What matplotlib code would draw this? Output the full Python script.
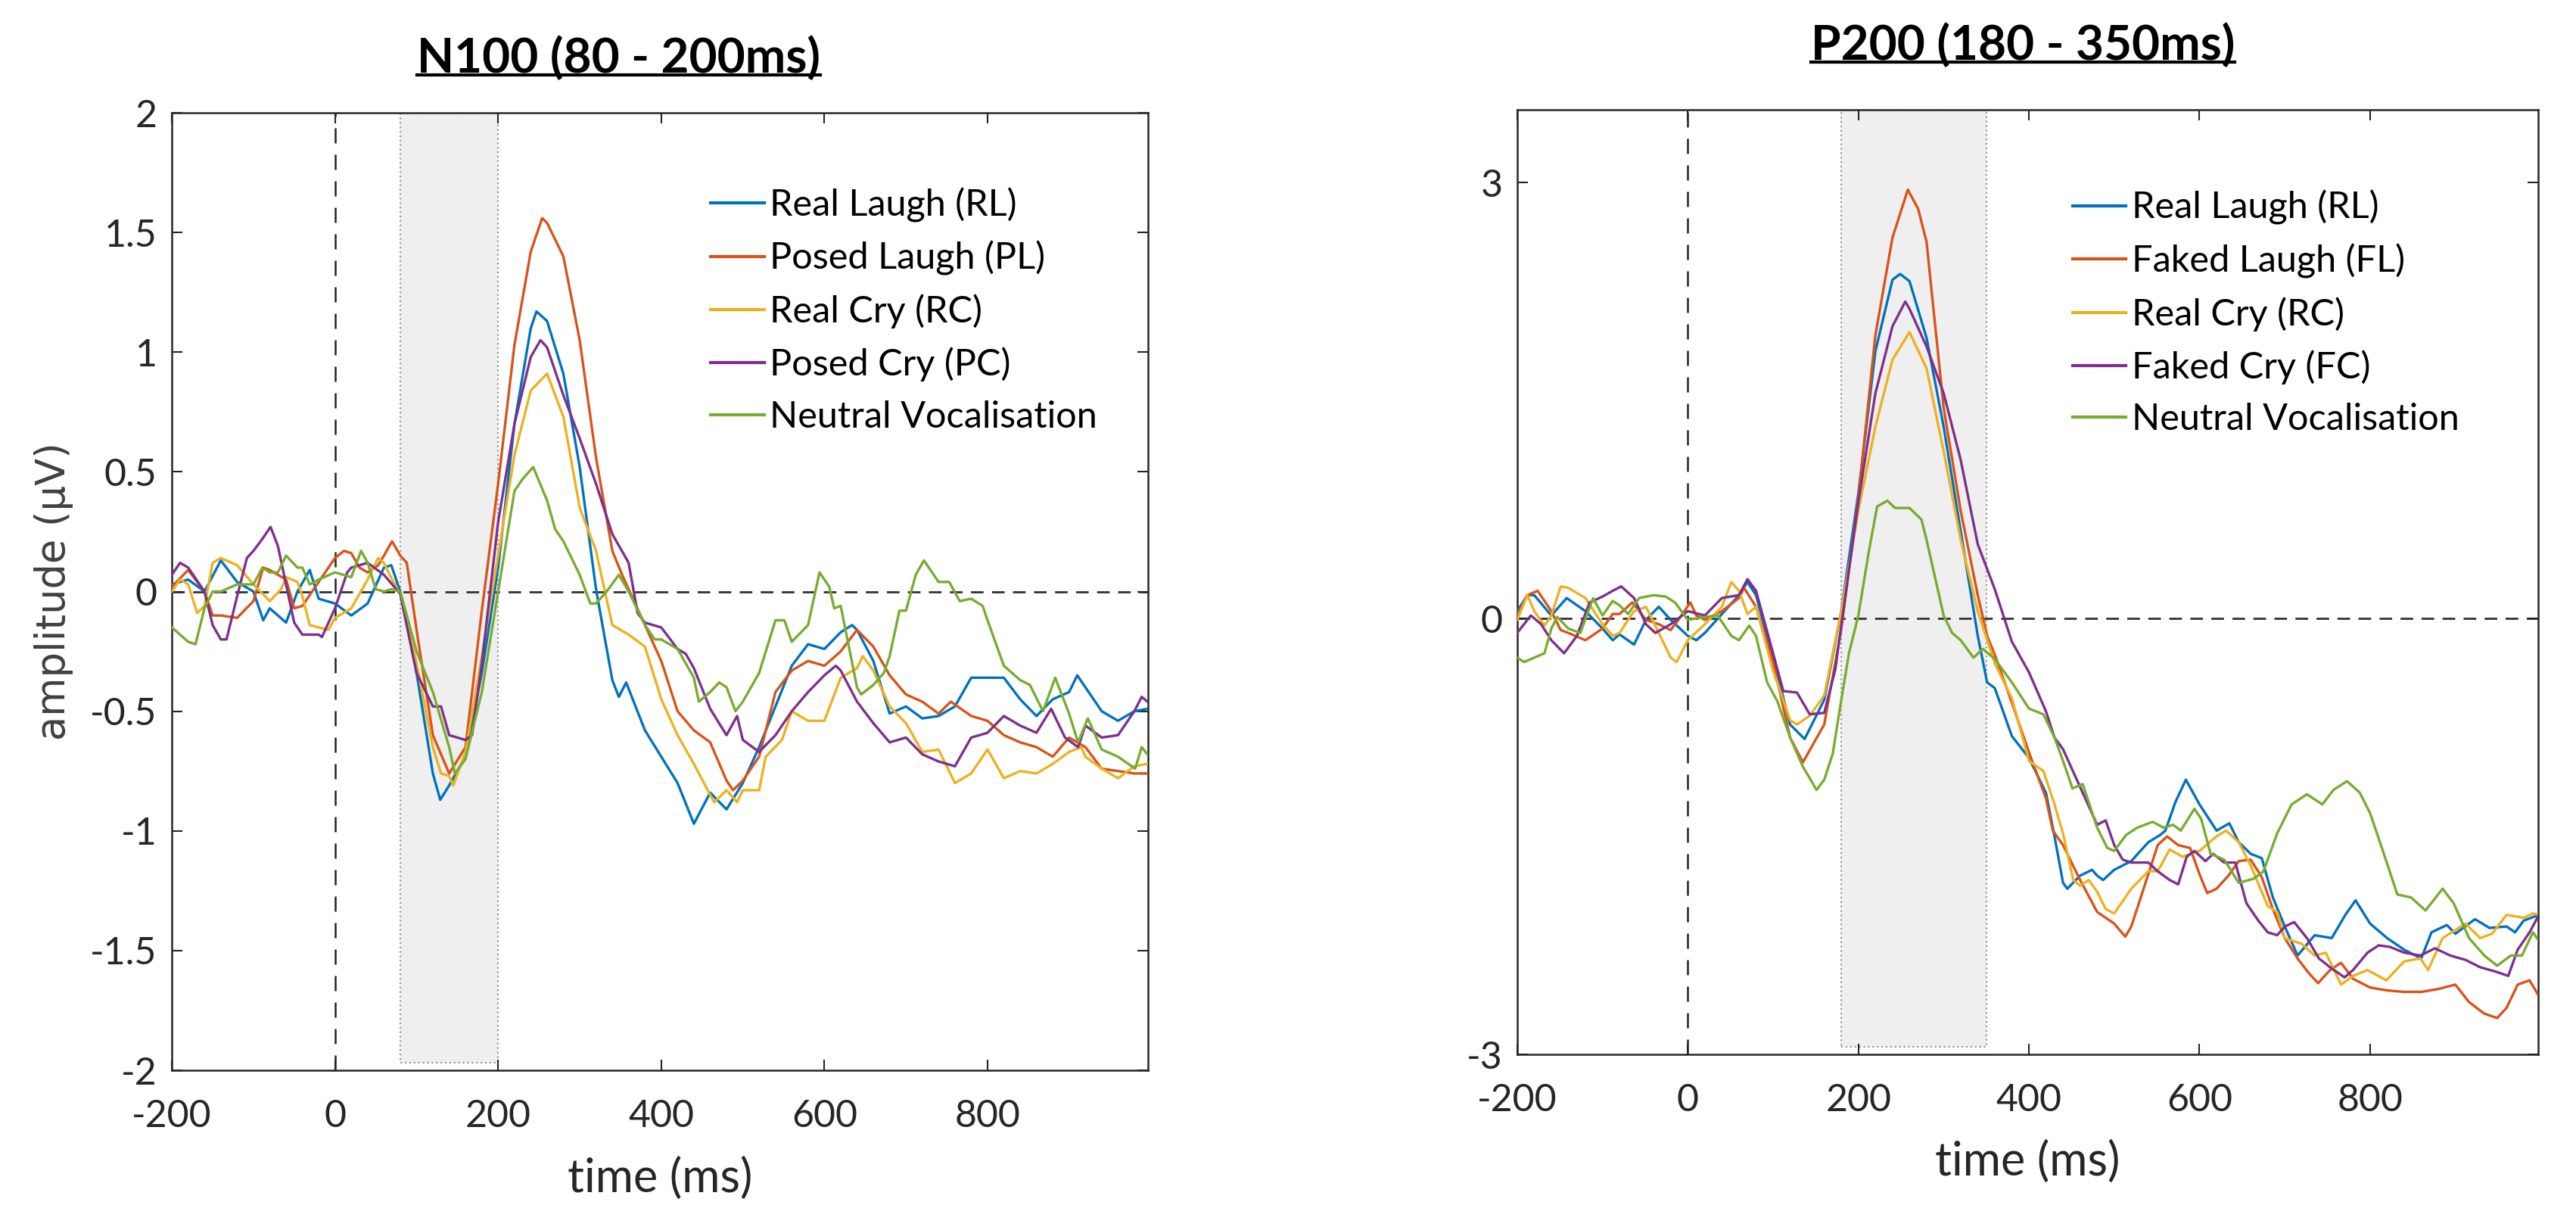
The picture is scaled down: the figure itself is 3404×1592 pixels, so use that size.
import numpy as np
import matplotlib.pyplot as plt
from matplotlib.patches import Rectangle
from matplotlib.lines import Line2D

# MATLAB default line colours
colors = ['#0072BD', '#D95319', '#EDB120', '#7E2F8E', '#77AC30']

# ---------------- N100 panel ----------------
n100_labels = ['Real Laugh (RL)', 'Posed Laugh (PL)', 'Real Cry (RC)',
               'Posed Cry (PC)', 'Neutral Vocalisation']

n100_rl_t = [-200, -180, -160, -140, -120, -100, -88, -80, -60, -46, -31, -20, 0, 20, 40, 60, 69, 80,
             100, 120, 129, 140, 160, 180, 200, 220, 240, 247, 260, 280, 300, 320, 340, 348, 357, 380,
             400, 420, 440, 460, 480, 500, 520, 540, 560, 580, 600, 620, 634, 640, 660, 680, 700, 720,
             740, 760, 780, 800, 820, 840, 860, 880, 900, 910, 920, 940, 960, 980, 996]
n100_rl = [0.03, 0.05, 0.0, 0.13, 0.04, 0.0, -0.12, -0.07, -0.13, 0.0, 0.09, -0.03, -0.05, -0.10, -0.05,
           0.10, 0.11, 0.0, -0.34, -0.76, -0.87, -0.81, -0.69, -0.34, 0.10, 0.70, 1.10, 1.17, 1.13, 0.91,
           0.52, 0.01, -0.37, -0.44, -0.38, -0.58, -0.69, -0.80, -0.97, -0.84, -0.91, -0.80, -0.65, -0.48,
           -0.31, -0.22, -0.24, -0.17, -0.14, -0.16, -0.29, -0.51, -0.48, -0.53, -0.52, -0.48, -0.36, -0.36,
           -0.36, -0.45, -0.52, -0.45, -0.42, -0.35, -0.40, -0.50, -0.54, -0.50, -0.49]

n100_pl_t = [-200, -180, -160, -150, -140, -120, -100, -88, -80, -60, -50, -40, -20, 0, 11, 20, 30, 40,
             53, 60, 70, 80, 88, 100, 120, 140, 160, 180, 200, 220, 240, 254, 260, 280, 300, 320, 340,
             352, 360, 380, 400, 420, 440, 460, 480, 488, 500, 520, 540, 560, 580, 600, 620, 640, 660,
             680, 700, 720, 740, 755, 780, 800, 820, 840, 860, 880, 900, 920, 940, 960, 980, 996]
n100_pl = [0.02, 0.09, 0.0, -0.10, -0.10, -0.11, -0.04, 0.10, 0.09, 0.05, -0.07, -0.06, 0.04, 0.14, 0.17,
           0.16, 0.10, 0.08, 0.11, 0.15, 0.21, 0.15, 0.12, -0.16, -0.60, -0.76, -0.65, -0.08, 0.45, 1.03,
           1.42, 1.56, 1.54, 1.40, 1.05, 0.56, 0.17, 0.07, 0.01, -0.14, -0.29, -0.50, -0.58, -0.63, -0.79,
           -0.83, -0.79, -0.69, -0.42, -0.33, -0.29, -0.31, -0.25, -0.16, -0.23, -0.35, -0.43, -0.46,
           -0.51, -0.46, -0.52, -0.54, -0.60, -0.63, -0.65, -0.69, -0.61, -0.65, -0.74, -0.75, -0.76, -0.76]

n100_rc_t = [-200, -190, -180, -169, -160, -150, -140, -120, -100, -80, -66, -60, -46, -40, -31, -20, -8,
             0, 20, 40, 53, 60, 70, 80, 100, 120, 130, 140, 145, 160, 180, 200, 220, 240, 260, 280, 300,
             320, 340, 360, 380, 400, 420, 440, 460, 465, 480, 493, 500, 520, 528, 548, 560, 580, 600,
             620, 640, 647, 660, 680, 700, 720, 740, 760, 780, 800, 820, 840, 860, 880, 900, 915, 920,
             940, 960, 980, 996]
n100_rc = [0.0, 0.05, 0.03, -0.09, -0.06, 0.12, 0.14, 0.11, 0.03, -0.04, 0.01, 0.06, 0.04, -0.02, -0.14,
           -0.15, -0.16, -0.11, -0.07, 0.05, 0.14, 0.12, 0.05, -0.01, -0.30, -0.65, -0.76, -0.77, -0.81,
           -0.67, -0.27, 0.15, 0.57, 0.84, 0.91, 0.73, 0.35, 0.17, -0.14, -0.18, -0.23, -0.45, -0.60,
           -0.72, -0.85, -0.88, -0.83, -0.88, -0.83, -0.83, -0.69, -0.62, -0.50, -0.54, -0.54, -0.36,
           -0.32, -0.27, -0.33, -0.48, -0.55, -0.67, -0.66, -0.80, -0.76, -0.66, -0.78, -0.75, -0.76,
           -0.72, -0.67, -0.65, -0.69, -0.74, -0.78, -0.73, -0.72]

n100_pc_t = [-200, -190, -180, -160, -150, -140, -133, -120, -108, -100, -89, -79, -70, -60, -50, -40,
             -20, -16, 0, 15, 20, 40, 60, 80, 100, 120, 130, 140, 160, 168, 180, 200, 220, 240, 252, 260,
             280, 300, 320, 340, 360, 371, 380, 400, 420, 430, 440, 460, 480, 493, 500, 520, 540, 560,
             580, 600, 614, 620, 640, 660, 680, 700, 720, 740, 760, 780, 800, 820, 840, 860, 878, 895,
             911, 920, 940, 960, 980, 989, 996]
n100_pc = [0.07, 0.12, 0.10, 0.0, -0.14, -0.20, -0.20, -0.02, 0.14, 0.17, 0.22, 0.27, 0.19, 0.03, -0.13,
           -0.18, -0.18, -0.19, -0.07, 0.08, 0.10, 0.12, 0.07, -0.01, -0.34, -0.48, -0.48, -0.60, -0.62,
           -0.60, -0.30, 0.29, 0.70, 0.98, 1.05, 1.02, 0.82, 0.64, 0.45, 0.24, 0.12, -0.09, -0.13, -0.15,
           -0.24, -0.26, -0.32, -0.49, -0.60, -0.52, -0.62, -0.67, -0.60, -0.50, -0.42, -0.35, -0.31,
           -0.33, -0.46, -0.55, -0.63, -0.61, -0.68, -0.71, -0.73, -0.61, -0.59, -0.52, -0.56, -0.59,
           -0.49, -0.61, -0.65, -0.56, -0.61, -0.60, -0.50, -0.44, -0.46]

n100_nv_t = [-200, -190, -180, -171, -160, -150, -140, -120, -100, -89, -80, -70, -60, -46, -40, -31,
             -20, 0, 20, 32, 40, 50, 60, 69, 80, 100, 120, 140, 147, 160, 180, 200, 220, 230, 243, 260,
             270, 280, 300, 313, 320, 333, 348, 360, 380, 392, 400, 420, 440, 446, 460, 471, 480, 491,
             500, 520, 540, 551, 560, 580, 594, 606, 612, 620, 640, 645, 660, 673, 680, 692, 700, 712,
             722, 740, 753, 766, 780, 794, 800, 820, 840, 852, 868, 883, 900, 911, 923, 940, 960, 981,
             989, 996]
n100_nv = [-0.15, -0.18, -0.21, -0.22, -0.07, 0.0, 0.0, 0.03, 0.03, 0.10, 0.08, 0.08, 0.15, 0.10, 0.10,
           0.03, 0.05, 0.08, 0.06, 0.17, 0.12, 0.01, 0.0, 0.01, 0.0, -0.25, -0.42, -0.65, -0.76, -0.70,
           -0.42, 0.0, 0.42, 0.47, 0.52, 0.38, 0.26, 0.21, 0.07, -0.05, -0.05, 0.0, 0.07, 0.0, -0.14,
           -0.20, -0.20, -0.24, -0.36, -0.46, -0.42, -0.38, -0.40, -0.50, -0.46, -0.34, -0.12, -0.12,
           -0.21, -0.14, 0.08, 0.02, -0.07, -0.06, -0.40, -0.43, -0.39, -0.34, -0.27, -0.08, -0.08, 0.07,
           0.13, 0.04, 0.04, -0.04, -0.03, -0.06, -0.12, -0.31, -0.37, -0.39, -0.50, -0.36, -0.51, -0.63,
           -0.53, -0.66, -0.69, -0.74, -0.65, -0.68]

# ---------------- P200 panel ----------------
p200_labels = ['Real Laugh (RL)', 'Faked Laugh (FL)', 'Real Cry (RC)',
               'Faked Cry (FC)', 'Neutral Vocalisation']

p200_rl_t = [-200, -188, -180, -160, -142, -120, -100, -88, -80, -63, -49, -34, -20, 0, 10, 20, 40, 60,
             70, 80, 100, 120, 137, 160, 180, 200, 220, 240, 249, 260, 280, 300, 320, 340, 351, 360, 380,
             400, 420, 430, 440, 445, 460, 474, 480, 487, 500, 520, 540, 554, 560, 572, 584, 600, 620,
             635, 646, 660, 673, 686, 700, 715, 735, 755, 771, 783, 800, 820, 840, 860, 872, 890, 900,
             923, 940, 960, 970, 980, 998]
p200_rl = [0.05, 0.16, 0.16, 0.02, 0.14, 0.05, -0.07, -0.15, -0.11, -0.18, -0.01, 0.08, -0.01, -0.12,
           -0.15, -0.10, 0.03, 0.16, 0.25, 0.16, -0.27, -0.73, -0.83, -0.56, 0.05, 0.86, 1.84, 2.33, 2.37,
           2.32, 1.93, 1.32, 0.60, -0.12, -0.44, -0.48, -0.81, -0.96, -1.20, -1.50, -1.82, -1.86, -1.77,
           -1.73, -1.77, -1.80, -1.73, -1.67, -1.54, -1.49, -1.46, -1.26, -1.11, -1.28, -1.46, -1.41,
           -1.54, -1.62, -1.65, -1.92, -2.12, -2.32, -2.18, -2.20, -2.04, -1.94, -2.10, -2.20, -2.28,
           -2.34, -2.16, -2.11, -2.17, -2.07, -2.13, -2.12, -2.16, -2.08, -2.04]

p200_fl_t = [-200, -188, -176, -160, -149, -140, -120, -100, -88, -80, -65, -49, -34, -20, -11, 3, 10,
             20, 40, 60, 66, 80, 100, 120, 135, 160, 180, 200, 220, 240, 258, 270, 280, 300, 320, 340,
             351, 360, 380, 400, 420, 428, 440, 460, 480, 500, 513, 520, 540, 551, 562, 575, 589, 600,
             609, 620, 634, 646, 660, 673, 686, 700, 715, 728, 739, 753, 766, 780, 800, 820, 840, 860,
             880, 900, 916, 934, 949, 960, 973, 987, 998]
p200_fl = [0.02, 0.16, 0.19, 0.05, -0.08, -0.10, -0.15, -0.07, 0.03, 0.03, 0.11, -0.01, -0.04, -0.08,
           -0.01, 0.11, 0.02, -0.01, 0.05, 0.14, 0.21, 0.08, -0.30, -0.82, -0.99, -0.73, -0.07, 0.83, 1.95,
           2.62, 2.95, 2.82, 2.59, 1.45, 0.74, 0.16, -0.12, -0.25, -0.58, -0.92, -1.24, -1.46, -1.56,
           -1.80, -2.02, -2.10, -2.19, -2.12, -1.76, -1.56, -1.50, -1.56, -1.58, -1.76, -1.89, -1.86,
           -1.77, -1.67, -1.66, -1.78, -2.00, -2.20, -2.34, -2.44, -2.51, -2.42, -2.37, -2.48, -2.54,
           -2.56, -2.57, -2.57, -2.55, -2.52, -2.64, -2.72, -2.75, -2.68, -2.52, -2.49, -2.60]

p200_rc_t = [-200, -188, -180, -168, -160, -149, -140, -120, -100, -88, -80, -63, -49, -34, -20, -13, 0,
             20, 40, 51, 60, 70, 80, 100, 120, 128, 143, 160, 180, 200, 220, 240, 260, 280, 300, 320,
             340, 360, 380, 400, 417, 430, 440, 452, 460, 470, 480, 490, 500, 520, 540, 551, 565, 580,
             600, 620, 631, 646, 660, 680, 691, 700, 720, 735, 748, 766, 780, 797, 819, 840, 859, 868,
             885, 912, 929, 943, 960, 980, 991, 998]
p200_rc = [-0.01, 0.16, 0.05, -0.05, 0.02, 0.22, 0.21, 0.14, -0.04, -0.12, -0.10, 0.05, 0.08, -0.10,
           -0.27, -0.30, -0.15, -0.04, 0.08, 0.25, 0.19, 0.03, 0.08, -0.36, -0.70, -0.73, -0.67, -0.53,
           0.05, 0.74, 1.32, 1.78, 1.97, 1.72, 1.15, 0.54, 0.05, -0.31, -0.55, -0.98, -1.05, -1.28, -1.48,
           -1.80, -1.84, -1.80, -1.88, -2.00, -2.03, -1.86, -1.74, -1.74, -1.59, -1.64, -1.60, -1.50,
           -1.46, -1.54, -1.70, -1.98, -2.02, -2.20, -2.24, -2.32, -2.30, -2.52, -2.46, -2.42, -2.49,
           -2.36, -2.34, -2.42, -2.20, -2.10, -2.20, -2.17, -2.04, -2.06, -2.03, -2.04]

p200_fc_t = [-200, -184, -172, -160, -145, -130, -115, -100, -88, -78, -63, -49, -38, -20, 0, 20, 40,
             60, 70, 80, 100, 112, 128, 143, 160, 173, 180, 200, 220, 240, 255, 260, 280, 300, 320, 340,
             351, 360, 380, 400, 420, 430, 440, 460, 480, 490, 500, 510, 520, 540, 551, 565, 575, 585,
             594, 607, 616, 629, 642, 655, 669, 680, 691, 700, 711, 726, 740, 753, 770, 780, 797, 810,
             823, 840, 859, 876, 894, 912, 929, 947, 962, 973, 987, 998]
p200_fc = [-0.10, 0.02, -0.04, -0.15, -0.24, -0.12, 0.11, 0.15, 0.19, 0.22, 0.14, -0.04, -0.10, -0.04,
           0.05, 0.02, 0.14, 0.16, 0.27, 0.19, -0.24, -0.50, -0.51, -0.66, -0.65, -0.35, -0.05, 0.80,
           1.55, 2.01, 2.18, 2.13, 1.87, 1.55, 1.09, 0.51, 0.34, 0.20, -0.16, -0.37, -0.64, -0.82, -0.90,
           -1.16, -1.42, -1.39, -1.56, -1.66, -1.68, -1.68, -1.74, -1.80, -1.83, -1.64, -1.60, -1.67,
           -1.62, -1.68, -1.68, -1.96, -2.08, -2.16, -2.18, -2.12, -2.09, -2.20, -2.34, -2.40, -2.47,
           -2.42, -2.30, -2.25, -2.26, -2.30, -2.32, -2.27, -2.32, -2.35, -2.40, -2.43, -2.46, -2.28,
           -2.16, -2.04]

p200_nv_t = [-200, -192, -180, -168, -160, -153, -140, -126, -111, -100, -88, -80, -70, -57, -40, -26,
             -15, 0, 20, 35, 51, 60, 72, 80, 93, 105, 120, 135, 151, 160, 170, 180, 189, 200, 212, 222,
             234, 243, 260, 274, 280, 300, 310, 320, 335, 346, 360, 380, 400, 417, 430, 440, 451, 463,
             480, 492, 500, 514, 527, 545, 558, 569, 578, 594, 602, 613, 629, 646, 664, 675, 691, 708,
             726, 744, 757, 773, 788, 800, 815, 832, 848, 865, 885, 898, 916, 934, 949, 965, 978, 991, 998]
p200_nv = [-0.27, -0.30, -0.27, -0.24, -0.07, 0.01, -0.07, -0.10, 0.14, 0.02, 0.12, 0.09, 0.03, 0.14,
           0.16, 0.15, 0.11, -0.01, 0.01, 0.02, -0.12, -0.15, -0.05, -0.12, -0.44, -0.57, -0.82, -1.02,
           -1.18, -1.11, -0.93, -0.56, -0.24, 0.02, 0.45, 0.77, 0.81, 0.76, 0.76, 0.68, 0.54, 0.02, -0.10,
           -0.15, -0.27, -0.21, -0.28, -0.44, -0.62, -0.66, -0.82, -0.98, -1.17, -1.14, -1.44, -1.58,
           -1.60, -1.49, -1.44, -1.40, -1.44, -1.42, -1.46, -1.31, -1.38, -1.62, -1.66, -1.82, -1.79,
           -1.74, -1.48, -1.28, -1.21, -1.28, -1.18, -1.12, -1.20, -1.34, -1.60, -1.90, -1.92, -2.01,
           -1.86, -1.96, -2.20, -2.32, -2.39, -2.32, -2.32, -2.16, -2.22]

n100_window = (80, 200)
p200_window = (180, 350)

plt.rcParams['font.family'] = ['Lato', 'DejaVu Sans']
plt.rcParams['axes.unicode_minus'] = False

fig = plt.figure(figsize=(34.05, 15.92), dpi=100)
ax1 = fig.add_axes([0.0667, 0.1118, 0.3789, 0.7946])
ax2 = fig.add_axes([0.5888, 0.1250, 0.3962, 0.7839])


def draw_panel(ax, series, labels, window, ylim, yticks, leg_xy):
    lo, hi = ylim
    # shaded analysis window
    ax.add_patch(Rectangle((window[0], lo + 0.008 * (hi - lo)), window[1] - window[0],
                           (hi - lo) * 0.992, facecolor='#efefef', edgecolor='#9a9a9a',
                           linestyle=':', linewidth=1.6, zorder=0))
    ax.axvline(0, color='#222222', linestyle=(0, (8, 6)), linewidth=1.8, zorder=1)
    ax.axhline(0, color='#333333', linestyle=(0, (6, 4)), linewidth=2.0, zorder=1)
    for (t, v), c, lab in zip(series, colors, labels):
        ax.plot(t, v, color=c, linewidth=2.4, label=lab, zorder=3)
    ax.set_xlim(-200, 997)
    ax.set_ylim(lo, hi)
    ax.set_xticks([-200, 0, 200, 400, 600, 800])
    ax.set_yticks(yticks)
    ax.tick_params(direction='in', length=10, width=1.5, top=True, right=True,
                   labelsize=36, colors='#262626')
    ax.tick_params(axis='x', pad=27)
    ax.tick_params(axis='y', pad=14)
    for s in ax.spines.values():
        s.set_color('#262626')
        s.set_linewidth(1.8)
    ax.set_xlabel('time (ms)', fontsize=44, color='#262626', labelpad=22)
    handles = [Line2D([], [], color=c, linewidth=3) for c in colors]
    ax.legend(handles, labels, loc='upper left', bbox_to_anchor=leg_xy, frameon=False,
              fontsize=35, handlelength=1.45, handletextpad=0.15, labelspacing=0.5,
              borderpad=0, borderaxespad=0)


draw_panel(ax1, [(n100_rl_t, n100_rl), (n100_pl_t, n100_pl), (n100_rc_t, n100_rc),
                 (n100_pc_t, n100_pc), (n100_nv_t, n100_nv)],
           n100_labels, n100_window, (-2, 2),
           [-2, -1.5, -1, -0.5, 0, 0.5, 1, 1.5, 2], (0.552, 0.922))
ax1.set_yticklabels(['-2', '-1.5', '-1', '-0.5', '0', '0.5', '1', '1.5', '2'])
ax1.set_ylabel('amplitude (µV)', fontsize=38, family='DejaVu Sans', color='#404040',
               labelpad=16)

draw_panel(ax2, [(p200_rl_t, p200_rl), (p200_fl_t, p200_fl), (p200_rc_t, p200_rc),
                 (p200_fc_t, p200_fc), (p200_nv_t, p200_nv)],
           p200_labels, p200_window, (-3, 3.5), [-3, 0, 3], (0.544, 0.915))

# underlined bold titles
titles = [fig.text(0.240, 0.952, 'N100 (80 - 200ms)', ha='center', va='center',
                   fontsize=46, fontweight='bold'),
          fig.text(0.785, 0.963, 'P200 (180 - 350ms)', ha='center', va='center',
                   fontsize=46, fontweight='bold')]
fig.canvas.draw()
W, H = fig.bbox.width, fig.bbox.height
for t in titles:
    bb = t.get_window_extent()
    y = (bb.y0 + 0.12 * bb.height) / H
    fig.add_artist(Line2D([bb.x0 / W, bb.x1 / W], [y, y], color='black', linewidth=3))

fig.savefig('out.png', dpi=100)
